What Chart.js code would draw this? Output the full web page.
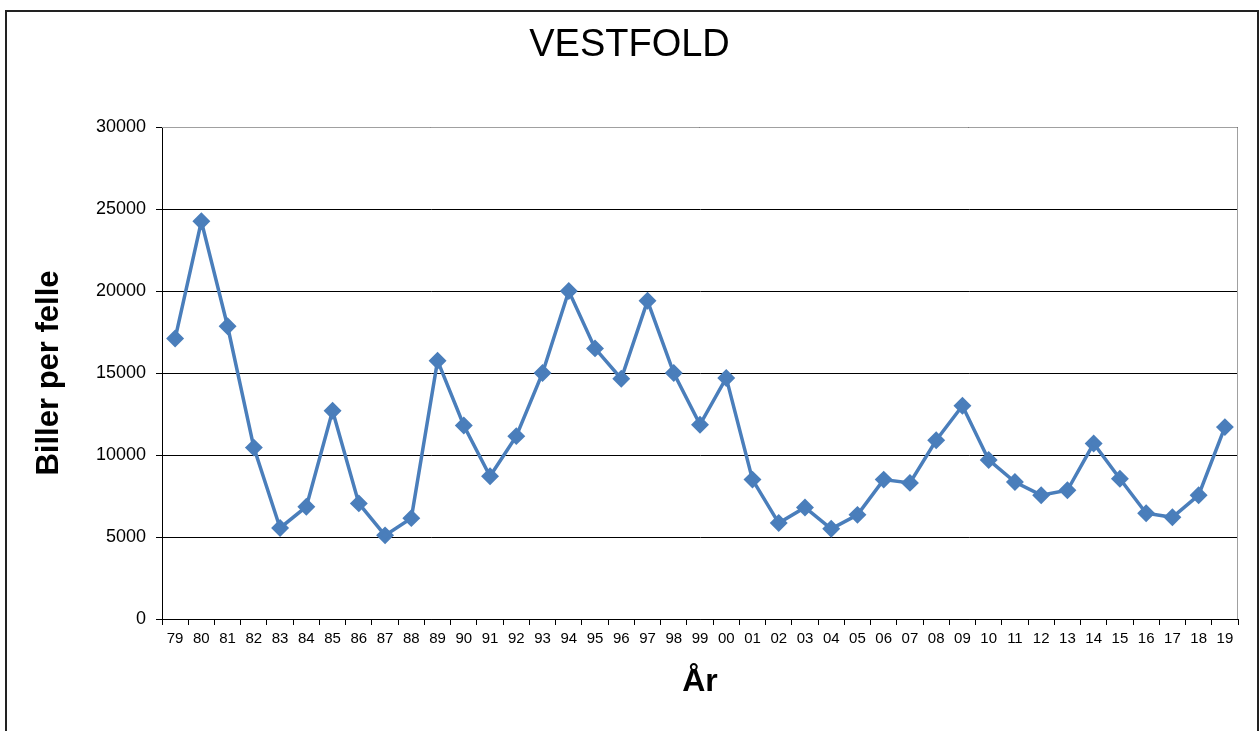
<!DOCTYPE html>
<html>
<head>
<meta charset="utf-8">
<script src="https://cdn.jsdelivr.net/npm/chart.js@4/dist/chart.umd.min.js"></script>
<style>
  body { margin: 0; background: #fff; }
  #wrap { position: relative; width: 1259px; height: 731px; }
  #frame { position: absolute; left: 5px; top: 10px; width: 1250px; height: 730px;
           border: 2px solid #222; border-bottom: none; }
  canvas { position: absolute; left: 0; top: 0; }
</style>
</head>
<body>
<div id="wrap">
  <div id="frame"></div>
  <canvas id="myChart" width="1259" height="731"></canvas>
</div>
<script>
// år (to siffer) og biller per felle
const years = ['79','80','81','82','83','84','85','86','87','88','89','90','91','92','93','94','95','96','97','98','99',
  '00','01','02','03','04','05','06','07','08','09','10','11','12','13','14','15','16','17','18','19'];
const biller = [17100, 24250, 17850, 10450, 5550, 6850, 12700, 7050, 5100, 6150, 15750, 11800, 8700, 11150, 15000,
  20000, 16500, 14650, 19400, 15000, 11850, 14700, 8500, 5850, 6800, 5500, 6350, 8500, 8300, 10900, 13000,
  9700, 8350, 7550, 7850, 10700, 8550, 6450, 6200, 7550, 11700];
const yTicks = [0, 5000, 10000, 15000, 20000, 25000, 30000];

const FONT = 'Liberation Sans, Arial, sans-serif';

// grå ramme rundt plottet, svarte akser
const plotFrame = {
  id: 'plotFrame',
  beforeDatasetsDraw(chart) {
    const { ctx, chartArea: a } = chart;
    ctx.save();
    ctx.strokeStyle = '#a0a0a0';
    ctx.lineWidth = 1;
    ctx.beginPath();
    ctx.moveTo(a.left, a.top + 0.5);
    ctx.lineTo(a.right - 0.5, a.top + 0.5);
    ctx.lineTo(a.right - 0.5, a.bottom);
    ctx.stroke();
    ctx.restore();
  }
};

const ctx = document.getElementById('myChart').getContext('2d');
new Chart(ctx, {
  type: 'line',
  data: {
    labels: years,
    datasets: [{
      data: biller,
      borderColor: '#4a7ebb',
      backgroundColor: '#4a7ebb',
      borderWidth: 3.5,
      pointStyle: 'rectRot',
      pointRadius: 6.5,
      pointHoverRadius: 6.5,
      tension: 0,
      fill: false
    }]
  },
  options: {
    responsive: false,
    animation: false,
    layout: { padding: 0 },
    plugins: {
      legend: { display: false },
      tooltip: { enabled: false },
      title: {
        display: true,
        text: 'VESTFOLD',
        color: '#000',
        font: { family: FONT, size: 38, weight: 'normal' },
        padding: { top: 23, bottom: 58.4 }
      }
    },
    scales: {
      x: {
        offset: true,
        grid: { display: true, drawOnChartArea: false, offset: true, color: '#000', tickLength: 6 },
        border: { color: '#000', width: 1 },
        ticks: {
          color: '#000', autoSkip: false, maxRotation: 0, padding: 5,
          font: { family: FONT, size: 15 }
        },
        title: {
          display: true, text: 'År', color: '#000',
          font: { family: FONT, size: 32, weight: 'bold' },
          padding: { top: 0, bottom: 30 }
        },
        afterFit(scale) { scale.height = 112; }
      },
      y: {
        min: 0, max: 30000,
        afterBuildTicks(scale) { scale.ticks = yTicks.map(v => ({ value: v })); },
        grid: { color: '#000', tickLength: 6 },
        border: { color: '#000', width: 1 },
        ticks: {
          color: '#000', padding: 10,
          font: { family: FONT, size: 18 },
          callback: v => String(v)
        },
        title: {
          display: true, text: 'Biller per felle', color: '#000',
          font: { family: FONT, size: 31, weight: 'bold' },
          padding: { top: 31, bottom: 0 }
        },
        afterFit(scale) { scale.width = 162; }
      },
      // tom akse til høyre, bare for å gi luft
      y2: {
        position: 'right',
        display: true,
        grid: { display: false },
        border: { display: false },
        ticks: { display: false },
        afterFit(scale) { scale.width = 21; }
      }
    }
  },
  plugins: [plotFrame]
});
</script>
</body>
</html>
